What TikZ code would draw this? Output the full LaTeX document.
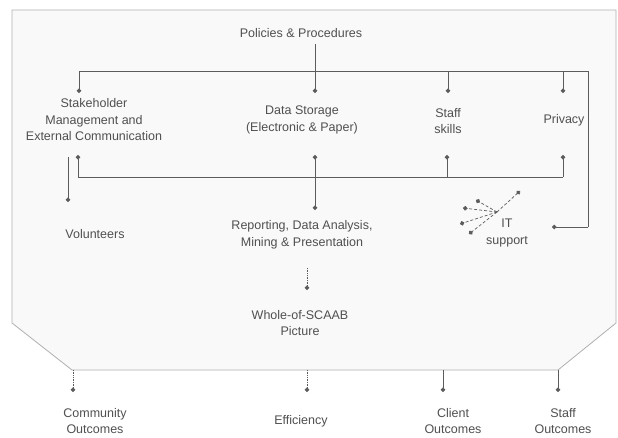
\documentclass[tikz,border=0pt]{standalone}
\usepackage{fontspec}
\setmainfont{Liberation Sans}
\usetikzlibrary{arrows.meta}

\definecolor{framegray}{HTML}{B0B0B0}
\definecolor{linegray}{HTML}{5C5C5C}
\definecolor{textgray}{HTML}{505050}
\definecolor{panel}{HTML}{F9F9F9}

\tikzset{
    txt/.style={align=center, inner sep=0pt, text=textgray, font=\fontsize{12.5}{16.5}\selectfont},
    bus/.style={draw=linegray, line width=0.7pt},
    link/.style={bus, -{Circle[length=4.5pt]}},
    weak/.style={link, densely dotted},
    ray/.style={link, densely dashed}
}

\begin{document}
\begin{tikzpicture}[x=1pt, y=-1pt]
        \useasboundingbox[fill=white] (0,0) rectangle (618,437);
        \filldraw[fill=panel, draw=framegray, line width=0.8pt]
            (12,10) -- (616,10) -- (616,323) -- (558,370) -- (72,370) -- (12,323) -- cycle;

        \node[txt] (policies) at (301,33) {Policies \& Procedures};
        \node[txt] (stakeholder) at (94,120) {Stakeholder\\Management and\\External Communication};
        \node[txt] (storage) at (302,120) {Data Storage\\(Electronic \& Paper)};
        \node[txt] (staff) at (448,121) {Staff\\skills};
        \node[txt] (privacy) at (564,120) {Privacy};
        \node[txt] (volunteers) at (95,234) {Volunteers};
        \node[txt] (reporting) at (302,235) {Reporting, Data Analysis,\\Mining \& Presentation};
        \node[txt] (itsupport) at (507,233) {IT\\support};
        \node[txt] (whole) at (300,323) {Whole-of-SCAAB\\Picture};
        \node[txt] (community) at (95,421) {Community\\Outcomes};
        \node[txt] (efficiency) at (301,421) {Efficiency};
        \node[txt] (client) at (453,421) {Client\\Outcomes};
        \node[txt] (staffout) at (563,421) {Staff\\Outcomes};

        \coordinate (topleft) at (79,71);
        \coordinate (topright) at (588,71);
        \coordinate (itcorner) at (588,227);
        \coordinate (lowleft) at (78,177);
        \coordinate (lowright) at (563,177);
        \coordinate (hub) at (497,212);

        \draw[bus] (topleft) -- (topright) -- (itcorner);
        \draw[link] (itcorner) -- (552,227);
        \draw[link] (topleft) -- (79,93);
        \draw[link] (448,71) -- (448,93);
        \draw[link] (563,71) -- (563,93);
        \draw[link] (315,44) -- (315,93);

        \draw[bus] (lowleft) -- (lowright);
        \draw[link] (lowleft) -- (78,155);
        \draw[link] (447,177) -- (447,155);
        \draw[link] (lowright) -- (563,155);
        \draw[bus, {Circle[length=4.5pt]}-{Circle[length=4.5pt]}] (315,155) -- (315,210);
        \draw[link] (68,157) -- (68,202);

        \draw[weak] (307,268) -- (307,290);

        \foreach \tip in {(520,191), (476,200), (463,208), (460,224), (469,234)}
            \draw[ray] (hub) -- \tip;

        \draw[weak] (73,370) -- (73,392);
        \draw[weak] (307,370) -- (307,392);
        \draw[link] (443,370) -- (443,392);
        \draw[link] (558,370) -- (558,392);
\end{tikzpicture}
\end{document}
